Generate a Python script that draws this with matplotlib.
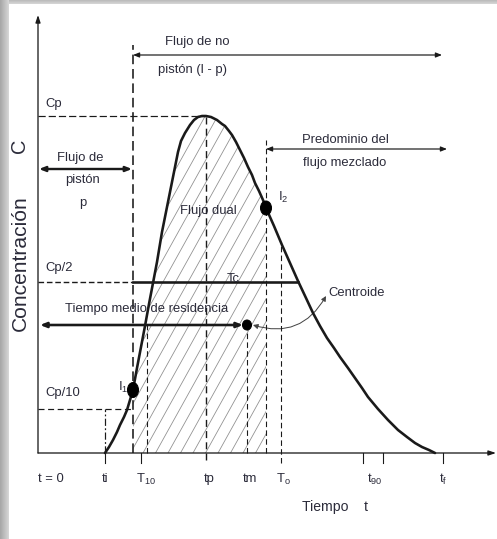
import numpy as np
import matplotlib
matplotlib.use("Agg")
import matplotlib.pyplot as plt
from matplotlib import font_manager
from matplotlib.patches import Polygon, Ellipse, FancyArrowPatch

# ---- residence-time curve (time, concentration) ----
t_curve = [67, 71, 75, 79, 82, 86, 89, 92, 95,
           99, 103, 107, 111, 115, 119, 124, 128, 132, 137,
           140, 143, 147, 152, 156, 160, 164, 168, 173, 179,
           184, 187, 191, 194, 198, 202, 206, 210, 214, 217,
           221, 225, 228,
           236, 244, 252, 260, 268, 275, 282, 289, 296, 302,
           310, 317, 324, 330, 340, 350, 360, 369, 377, 384,
           391, 397]
c_curve = [0, 6, 13, 21, 28, 36, 43, 53, 63,
           85, 106, 127, 149, 170, 191, 221, 241, 261, 286,
           301, 312, 320, 328, 333, 336, 337, 337, 336, 333,
           329, 327, 322, 318, 311, 303, 295, 286, 278, 270,
           262, 253, 245,
           227, 208, 190, 172, 155, 140, 127, 115, 105, 96,
           85, 75, 65, 56, 44, 33, 23, 16, 10, 6,
           3, 0]

# characteristic times
t_i = 67
t_10 = 103
t_p = 168
t_m = 209
t_o = 243
t_90 = [325, 345]
t_f = 405
t_lim1 = 95     # time of inflection I1
t_lim2 = 228    # time of inflection I2
t_c = 109

# characteristic concentrations
c_p = 337
c_half = 171
c_tenth = 44
c_mean = 128
c_i1 = 63
c_i2 = 245

tick_times = [0, t_i, 108, 171, 212, 245, 337, t_f]
tick_labels = ["t = 0", "ti", r"T$_{\mathregular{10}}$", "tp", "tm",
               r"T$_{\mathregular{o}}$", r"t$_{\mathregular{90}}$",
               r"t$_{\mathregular{f}}$"]

names = set(font_manager.get_font_names())
narrow = "Liberation Sans Narrow" if "Liberation Sans Narrow" in names else "Liberation Sans"
wide = "Liberation Sans"
plt.rcParams["font.family"] = [narrow, "DejaVu Sans"]
plt.rcParams["mathtext.fontset"] = "custom"
plt.rcParams["mathtext.rm"] = narrow

W, H = 497, 539
fig = plt.figure(figsize=(W / 72, H / 72), dpi=72)

# soft frame shadow on the left and top edges
bg = np.ones((H, W, 3))
for i in range(9):
    bg[:, i, :] = 0.66 + 0.022 * i
for j in range(4):
    bg[j, 9:, :] = np.minimum(bg[j, 9:, :], 0.74 + 0.03 * j)
fig.figimage(bg, 0, 0, zorder=0)

ax = fig.add_axes([0, 0, 1, 1], zorder=1)
ax.patch.set_visible(False)
ax.set_xlim(-38, W - 38)
ax.set_ylim(-(H - 453), 453)
ax.axis("off")

ink = "#1a1a1a"
txt = "#2b2b3a"

# axes with arrows
ax.annotate("", xy=(0, 438), xytext=(0, 0),
            arrowprops=dict(arrowstyle="-|>,head_length=0.6,head_width=0.2",
                            color=ink, lw=1.3, shrinkA=0, shrinkB=0))
ax.annotate("", xy=(458, 0), xytext=(0, 0),
            arrowprops=dict(arrowstyle="-|>,head_length=0.6,head_width=0.2",
                            color=ink, lw=1.3, shrinkA=0, shrinkB=0))

# hatched region between the inflection points
tc = np.array(t_curve)
cc = np.array(c_curve)
sel = (tc >= t_lim1) & (tc <= t_lim2)
poly_pts = [(t_lim1, 0)] + list(zip(tc[sel], cc[sel])) + [(t_lim2, 0)]
region = Polygon(poly_pts, closed=True, fill=False, lw=0, edgecolor="none")
ax.add_patch(region)
slope = 1.8
for c0 in np.arange(-120, 240, 12.5):
    ln, = ax.plot([c0, c0 + 420 / slope], [0, 420], color="#8f8f8f", lw=0.8,
                  zorder=1)
    ln.set_clip_path(region)

# curve
ax.plot(t_curve, c_curve, color=ink, lw=2.6, solid_capstyle="round",
        solid_joinstyle="round", zorder=4)

# guide lines
dash = (0, (5, 3))
ax.plot([0, t_p], [c_p, c_p], color=ink, lw=1.2, ls=(0, (6, 2.5)))
ax.plot([0, t_lim1], [c_half, c_half], color=ink, lw=1.4, ls=(0, (4, 2)))
ax.plot([t_lim1, 260], [c_half, c_half], color=ink, lw=2.6)
ax.plot([0, t_lim1], [c_tenth, c_tenth], color=ink, lw=1.2, ls=dash)
ax.plot([t_i, t_i], [0, c_tenth], color=ink, lw=1.2, ls=(0, (6, 2, 1.5, 2)))
ax.plot([t_lim1, t_lim1], [0, 408], color=ink, lw=1.6, ls=(0, (6, 3)))
ax.plot([t_c, t_c], [0, c_mean], color=ink, lw=1.1, ls=dash)
ax.plot([t_p, t_p], [-7, c_p], color=ink, lw=1.4, ls=dash)
ax.plot([t_m, t_m], [0, c_mean], color=ink, lw=1.1, ls=dash)
ax.plot([t_lim2, t_lim2], [0, 313], color=ink, lw=1.1, ls=dash)
ax.plot([t_o, t_o], [-10, 210], color=ink, lw=1.1, ls=dash)

# tick marks under the time axis
for tt in [t_i, t_10] + t_90 + [t_f]:
    ax.plot([tt, tt], [0, -10], color=ink, lw=1.1)

# double arrows
def darrow(x0, x1, y, lw, hl=0.5, hw=0.2):
    ax.annotate("", xy=(x1, y), xytext=(x0, y),
                arrowprops=dict(arrowstyle=f"<|-|>,head_length={hl},head_width={hw}",
                                color=ink, lw=lw, shrinkA=0, shrinkB=0))

darrow(t_lim1, 404, 398, 1.2)
darrow(t_lim2, 409, 304, 1.2)
darrow(1, t_lim1 - 1, 284, 2.4)
darrow(2, t_m - 4, c_mean, 2.6)

# centroid pointer
ax.add_patch(FancyArrowPatch((288, 157), (215, 128),
                             connectionstyle="arc3,rad=-0.4",
                             arrowstyle="<|-|>,head_length=4,head_width=2",
                             color="#444444", lw=1.0, shrinkA=0, shrinkB=0))

# marked points
ax.add_patch(Ellipse((t_lim1, c_i1), 11, 15, color="black", zorder=6))
ax.add_patch(Ellipse((t_lim2, c_i2), 11, 14, color="black", zorder=6))
ax.add_patch(Ellipse((t_m, c_mean), 9, 10, color="black", zorder=6))

# labels
fs = 13
ax.text(159, 411, "Flujo de no", ha="center", va="center", fontsize=fs, color=txt)
ax.text(154, 383, "pistón (l - p)", ha="center", va="center", fontsize=fs, color=txt)
ax.text(7, 349, "Cp", ha="left", va="center", fontsize=fs, color=txt)
ax.text(42, 295, "Flujo de", ha="center", va="center", fontsize=fs, color=txt)
ax.text(45, 273, "pistón", ha="center", va="center", fontsize=fs, color=txt)
ax.text(45, 250, "p", ha="center", va="center", fontsize=fs, color=txt)
ax.text(264, 313, "Predominio del", ha="left", va="center", fontsize=fs, color=txt)
ax.text(265, 290, "flujo mezclado", ha="left", va="center", fontsize=fs, color=txt)
ax.text(170, 242, "Flujo dual", ha="center", va="center", fontsize=fs, color=txt)
ax.text(240, 256, r"I$_{\mathregular{2}}$", ha="left", va="center", fontsize=fs, color=txt)
ax.text(80, 66, r"I$_{\mathregular{1}}$", ha="left", va="center", fontsize=fs, color=txt)
ax.text(7, 185, "Cp/2", ha="left", va="center", fontsize=fs, color=txt)
ax.text(195, 174, "Tc", ha="center", va="center", fontsize=fs, color=txt)
ax.text(109, 144, "Tiempo medio de residencia", ha="center", va="center",
        fontsize=fs, color=txt)
ax.text(290, 160, "Centroide", ha="left", va="center", fontsize=fs, color=txt)
ax.text(7, 60, "Cp/10", ha="left", va="center", fontsize=fs, color=txt)
ax.text(264, -54, "Tiempo    t", ha="left", va="center", fontsize=fs + 1, color=txt)

ax.text(-18, 307, "C", rotation=90, ha="center", va="center", fontsize=20,
        color=txt, family=[wide, "DejaVu Sans"])
ax.text(-18, 190, "Concentración", rotation=90, ha="center", va="center",
        fontsize=21, color=txt, family=[wide, "DejaVu Sans"])

for tt, lab in zip(tick_times, tick_labels):
    ax.text(tt, -26, lab, ha="left" if tt == 0 else "center", va="center",
            fontsize=fs, color=txt)

fig.savefig("out.png", dpi=72)
